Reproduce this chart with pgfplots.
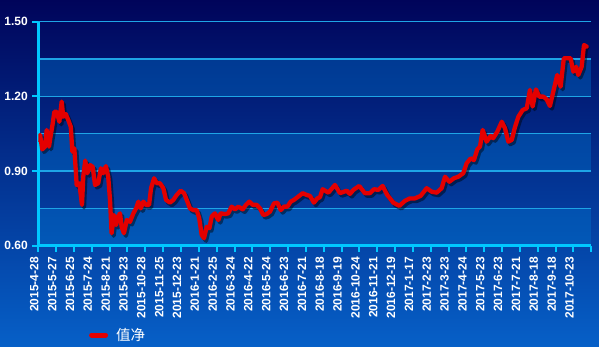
\documentclass[border=0pt]{standalone}
\usepackage{fontspec}
\setmainfont{Liberation Sans}
\newfontfamily\cjk{Noto Sans CJK SC}
\usepackage{pgfplots}
\usepackage{pgfplotstable}
\pgfplotsset{compat=1.18}
\definecolor{bgtop}{RGB}{0,4,90}
\definecolor{bgbot}{RGB}{6,96,200}
\definecolor{axcyan}{RGB}{0,200,255}
\definecolor{gridc}{RGB}{30,165,230}
\definecolor{band}{RGB}{0,120,210}
\definecolor{linered}{RGB}{228,0,0}
\pgfplotstableread{
x y
0.00 1.025
0.10 1.045
0.22 0.987
0.38 0.998
0.47 1.065
0.60 0.998
0.70 1.045
0.81 1.092
0.90 1.138
1.03 1.138
1.18 1.098
1.31 1.179
1.40 1.118
1.54 1.129
1.68 1.105
1.82 1.078
1.91 0.978
2.02 0.991
2.10 0.904
2.15 0.844
2.30 0.851
2.45 0.764
2.52 0.877
2.63 0.942
2.75 0.891
2.90 0.924
3.05 0.917
3.18 0.844
3.36 0.851
3.51 0.911
3.64 0.891
3.79 0.920
3.92 0.877
4.02 0.784
4.11 0.650
4.24 0.723
4.36 0.683
4.48 0.717
4.58 0.730
4.67 0.676
4.80 0.650
4.96 0.703
5.14 0.696
5.33 0.730
5.48 0.750
5.61 0.777
5.74 0.750
5.89 0.777
6.04 0.764
6.21 0.764
6.32 0.831
6.49 0.871
6.64 0.851
6.82 0.851
7.01 0.831
7.16 0.784
7.38 0.773
7.57 0.784
7.76 0.804
7.98 0.821
8.17 0.811
8.32 0.784
8.50 0.750
8.69 0.743
8.88 0.743
9.02 0.710
9.16 0.643
9.29 0.630
9.44 0.676
9.59 0.670
9.72 0.717
9.90 0.730
10.09 0.703
10.22 0.730
10.47 0.727
10.65 0.730
10.84 0.757
11.03 0.746
11.21 0.757
11.46 0.746
11.64 0.764
11.83 0.777
12.02 0.764
12.24 0.764
12.43 0.750
12.61 0.723
12.80 0.727
12.99 0.737
13.21 0.770
13.40 0.773
13.59 0.743
13.77 0.757
13.96 0.757
14.15 0.777
14.33 0.784
14.57 0.797
14.82 0.811
15.04 0.804
15.23 0.800
15.45 0.773
15.64 0.790
15.79 0.795
15.94 0.827
16.26 0.813
16.63 0.844
16.91 0.811
17.29 0.821
17.47 0.808
17.66 0.824
17.99 0.840
18.31 0.811
18.59 0.811
18.82 0.827
19.06 0.824
19.30 0.840
19.56 0.804
19.90 0.773
20.24 0.760
20.55 0.780
20.83 0.790
21.11 0.790
21.43 0.800
21.77 0.831
22.05 0.817
22.33 0.813
22.61 0.831
22.80 0.877
23.04 0.857
23.30 0.871
23.54 0.877
23.82 0.891
24.01 0.931
24.24 0.951
24.42 0.944
24.61 0.987
24.76 0.998
24.91 1.065
25.13 1.018
25.36 1.041
25.50 1.032
25.73 1.058
25.98 1.098
26.16 1.072
26.35 1.018
26.54 1.025
26.72 1.076
26.91 1.118
27.15 1.145
27.38 1.152
27.56 1.226
27.71 1.159
27.90 1.228
28.08 1.199
28.31 1.199
28.50 1.188
28.68 1.161
28.87 1.219
29.09 1.286
29.28 1.239
29.46 1.353
29.71 1.353
29.84 1.353
29.99 1.299
30.15 1.319
30.27 1.286
30.46 1.319
30.59 1.406
30.74 1.400
}\navdata
\begin{document}
\begin{tikzpicture}[x=1pt,y=1pt]
\useasboundingbox (0,0) rectangle (599,347);
\shade[top color=bgtop, bottom color=bgbot] (0,0) rectangle (599,347);
% alternating lighter bands
\fill[band, opacity=0.38] (38.3,250.6) rectangle (591.3,288.0);
\fill[band, opacity=0.38] (38.3,176.0) rectangle (591.3,213.3);
\fill[band, opacity=0.38] (38.3,101.3) rectangle (591.3,138.6);
\begin{axis}[
  at={(38.3pt,101.3pt)}, anchor=south west,
  scale only axis, width=553pt, height=224pt,
  xmin=0, xmax=31, ymin=0.6, ymax=1.5,
  axis x line*=bottom, axis y line*=left,
  axis line style={axcyan, line width=2.5pt, -},
  xtick={0,...,31},
  xticklabels={2015-4-28,2015-5-27,2015-6-25,2015-7-24,2015-8-21,2015-9-23,2015-10-28,2015-11-25,2015-12-23,2016-1-21,2016-2-25,2016-3-24,2016-4-22,2016-5-24,2016-6-23,2016-7-21,2016-8-18,2016-9-19,2016-10-24,2016-11-21,2016-12-19,2017-1-17,2017-2-23,2017-3-23,2017-4-24,2017-5-23,2017-6-23,2017-7-21,2017-8-18,2017-9-18,2017-10-23,{}},
  ytick={0.6,0.9,1.2,1.5}, yticklabels={0.60,0.90,1.20,1.50},
  minor ytick={0.75,1.05,1.35},
  ymajorgrids, yminorgrids,
  grid style={gridc, line width=1.3pt},
  minor grid style={gridc, line width=1.3pt},
  tick style={axcyan, line width=2pt},
  major tick length=6pt, minor tick length=0pt,
  tick align=outside,
  ticklabel style={text=white, font=\bfseries\fontsize{12}{13}\selectfont},
  yticklabel style={xshift=-1pt},
  xticklabel style={rotate=90, anchor=east, yshift=4pt, xshift=-2pt},
  legend style={at={(0.086,-0.399)}, anchor=west, draw=none, fill=none,
    text=white, font=\cjk\fontsize{14.5}{16}\selectfont,
    /tikz/every odd column/.append style={column sep=6pt}},
  legend image code/.code={\draw[linered, line width=5pt, line cap=round] (0pt,0pt) -- (14pt,0pt);},
]
\addplot[black, opacity=0.45, line width=4.3pt, line join=round, xshift=2pt, yshift=-2.5pt, forget plot] table[x=x,y=y] {\navdata};
\addplot[linered, line width=4.3pt, line join=round, line cap=round] table[x=x,y=y] {\navdata};
\addlegendentry{值净}
\end{axis}
\end{tikzpicture}
\end{document}
